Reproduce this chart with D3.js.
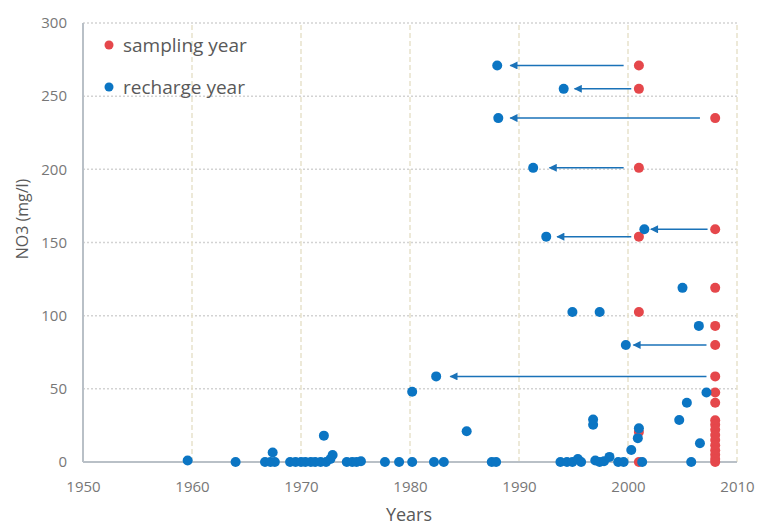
<!DOCTYPE html>
<html>
<head>
<meta charset="utf-8">
<script src="https://cdn.jsdelivr.net/npm/d3@7"></script>
<style>
  body { margin: 0; background: #fff; }
  svg { display: block; font-family: "Open Sans", "Noto Sans", sans-serif; }
</style>
</head>
<body>
<div id="chart"></div>
<script>
// NO3 vs sampling / recharge year
const samplingYears = [2001, 2001, 2001, 2001, 2001, 2001, 2001,
  2008, 2008, 2008, 2008, 2008, 2008, 2008, 2008, 2008, 2008, 2008, 2008, 2008, 2008, 2008, 2008, 2008, 2008];
const samplingNO3 = [271, 255, 201, 154, 102.5, 20.5, 0,
  235, 159, 119, 93, 80, 58.5, 47.5, 40.5, 28.5, 25.5, 22, 18.5, 15, 11.5, 8, 5, 2, 0];

const rechargeYears = [1959.6, 1964.0, 1966.7, 1967.2, 1967.6, 1967.4, 1969.0, 1969.5, 1970.0, 1970.4,
  1970.9, 1971.3, 1971.8, 1972.3, 1972.7, 1972.9, 1972.1, 1974.2, 1974.7, 1975.1,
  1975.5, 1977.7, 1979.0, 1980.2, 1980.2, 1982.2, 1983.1, 1982.4, 1985.2, 1987.5,
  1987.9, 1988.0, 1988.1, 1991.3, 1992.5, 1993.8, 1994.1, 1994.4, 1994.9, 1994.9,
  1995.4, 1995.7, 1996.8, 1996.8, 1997.0, 1997.4, 1997.4, 1997.8, 1998.3, 1999.1,
  1999.6, 1999.8, 2000.3, 2000.9, 2001.0, 2001.3, 2001.5, 2004.7, 2005.0, 2005.4,
  2005.8, 2006.5, 2006.6, 2007.2];
const rechargeNO3 = [1, 0, 0, 0, 0, 6.5, 0, 0, 0, 0,
  0, 0, 0, 0, 2, 4.8, 18, 0, 0, 0,
  0.5, 0, 0, 0, 48, 0, 0, 58.5, 21, 0,
  0, 271, 235, 201, 154, 0, 255, 0, 0, 102.5,
  2, 0, 25.5, 29, 1, 0, 102.5, 0.5, 3.5, 0,
  0, 80, 8.2, 16.3, 23, 0, 159, 28.7, 119, 40.5,
  0, 93, 12.8, 47.5];

// arrows: from sampling side to recharge side
const arrowStart = [1999.6, 2000.3, 2006.6, 1999.6, 2007.3, 2000.3, 2007.2, 2007.2];
const arrowEnd = [1989.2, 1995.1, 1989.2, 1992.8, 2002.1, 1993.5, 2000.5, 1983.7];
const arrowNO3 = [271, 255, 235, 201, 159, 154, 80, 58.5];

const xTicks = [1950, 1960, 1970, 1980, 1990, 2000, 2010];
const yTicks = [0, 50, 100, 150, 200, 250, 300];
const legendLabels = ["sampling year", "recharge year"];

const red = "#e5474b", blue = "#0b75c3";

const W = 759, H = 527;
const svg = d3.select("#chart").append("svg").attr("width", W).attr("height", H);

const x = d3.scaleLinear().domain([1950, 2010]).range([83, 737]);
const y = d3.scaleLinear().domain([0, 300]).range([462, 23]);

// grid
svg.append("g").selectAll("line").data(yTicks.slice(1)).join("line")
  .attr("x1", x(1950)).attr("x2", x(2010))
  .attr("y1", d => y(d)).attr("y2", d => y(d))
  .attr("stroke", "#d3d3d3").attr("stroke-width", 1.5).attr("stroke-dasharray", "2,2");
svg.append("g").selectAll("line").data(xTicks.slice(1)).join("line")
  .attr("x1", d => x(d)).attr("x2", d => x(d))
  .attr("y1", y(0)).attr("y2", y(300))
  .attr("stroke", "#e8e2cc").attr("stroke-width", 1.5).attr("stroke-dasharray", "5,3");

// axis lines
svg.append("line").attr("x1", x(1950)).attr("x2", x(1950)).attr("y1", y(0)).attr("y2", y(300))
  .attr("stroke", "#b9c0c7").attr("stroke-width", 2);
svg.append("line").attr("x1", x(1950)).attr("x2", x(2010)).attr("y1", y(0)).attr("y2", y(0))
  .attr("stroke", "#b9c0c7").attr("stroke-width", 2);

const xAxis = svg.append("g").attr("transform", `translate(0,${y(0)})`)
  .call(d3.axisBottom(x).tickValues(xTicks).tickFormat(d3.format("d")).tickSize(0).tickPadding(19));
const yAxis = svg.append("g").attr("transform", `translate(${x(1950) - 16},0)`)
  .call(d3.axisLeft(y).tickValues(yTicks).tickSize(0).tickPadding(0));
[xAxis, yAxis].forEach(g => {
  g.select(".domain").remove();
  g.selectAll("text").attr("font-size", "15px").attr("fill", "#777")
    .attr("font-family", "'Open Sans', sans-serif");
});

svg.append("text").attr("x", 409).attr("y", 521).attr("text-anchor", "middle")
  .attr("font-size", "18px").attr("fill", "#595959").text("Years");
svg.append("text").attr("transform", "translate(28,219) rotate(-90)")
  .attr("text-anchor", "middle").attr("font-size", "16px").attr("fill", "#595959")
  .text("NO3 (mg/l)");

// arrowhead
svg.append("defs").append("marker")
  .attr("id", "head").attr("viewBox", "0 0 10 10").attr("refX", 9).attr("refY", 5)
  .attr("markerWidth", 9).attr("markerHeight", 8).attr("orient", "auto")
  .attr("markerUnits", "userSpaceOnUse")
  .append("path").attr("d", "M0,0 L10,5 L0,10 Z").attr("fill", "#1a72b8");
svg.append("g").selectAll("line").data(arrowNO3).join("line")
  .attr("x1", (d, i) => x(arrowStart[i])).attr("x2", (d, i) => x(arrowEnd[i]))
  .attr("y1", d => y(d)).attr("y2", d => y(d))
  .attr("stroke", "#1a72b8").attr("stroke-width", 1.5)
  .attr("marker-end", "url(#head)");

// points
svg.append("g").selectAll("circle").data(samplingNO3).join("circle")
  .attr("cx", (d, i) => x(samplingYears[i])).attr("cy", d => y(d))
  .attr("r", 5).attr("fill", red);
svg.append("g").selectAll("circle").data(rechargeNO3).join("circle")
  .attr("cx", (d, i) => x(rechargeYears[i])).attr("cy", d => y(d))
  .attr("r", 5).attr("fill", blue);

// legend
const legend = svg.append("g").selectAll("g").data(legendLabels).join("g")
  .attr("transform", (d, i) => `translate(109,${45 + i * 42})`);
legend.append("circle").attr("r", 4.5).attr("fill", (d, i) => i === 0 ? red : blue);
legend.append("text").attr("x", 14).attr("dy", "0.35em")
  .attr("font-size", "19px").attr("fill", "#595959").text(d => d);
</script>
</body>
</html>
